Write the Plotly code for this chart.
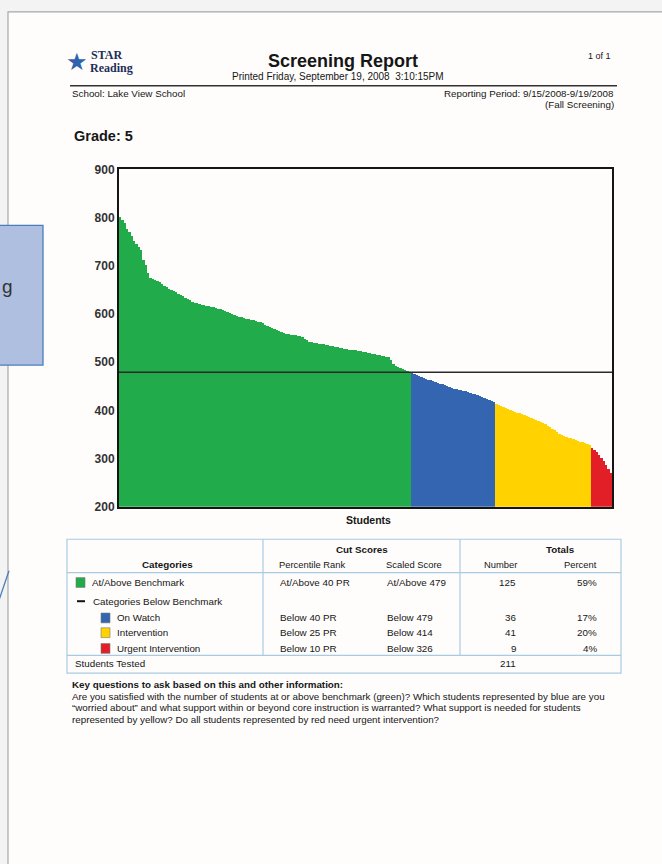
import plotly.graph_objects as go

# ---- Scaled scores of the 211 tested students, highest to lowest, by category ----
at_above_scores = [
    801, 795, 788, 776, 770, 760, 751, 745, 738, 731,
    712, 700, 684, 673, 671, 670, 668, 665, 662, 658,
    655, 652, 650, 647, 644, 640, 638, 636, 633, 631,
    628, 625, 623, 621, 619, 618, 617, 616, 615, 614,
    613, 612, 610, 609, 607, 606, 604, 602, 600, 598,
    596, 594, 592, 591, 589, 588, 587, 586, 584, 583,
    582, 580, 577, 575, 573, 570, 568, 566, 563, 561,
    559, 558, 557, 556, 556, 555, 554, 553, 551, 548,
    545, 542, 541, 540, 539, 538, 537, 536, 535, 534,
    533, 532, 531, 530, 529, 528, 527, 526, 525, 525,
    524, 524, 523, 522, 521, 520, 519, 518, 517, 516,
    515, 514, 513, 512, 511, 509, 503, 495, 491, 489,
    487, 485, 483, 481, 479,
]
on_watch_scores = [
    477, 475, 473, 471, 469, 467, 465, 463, 462, 461,
    459, 457, 455, 453, 451, 449, 447, 445, 444, 443,
    442, 441, 440, 439, 437, 436, 434, 433, 431, 429,
    427, 425, 423, 421, 419, 416,
]
intervention_scores = [
    412, 410, 408, 406, 404, 402, 400, 398, 396, 394,
    393, 391, 389, 387, 385, 383, 381, 379, 377, 376,
    373, 370, 367, 364, 361, 358, 355, 351, 349, 347,
    345, 343, 341, 339, 337, 335, 334, 333, 331, 329,
    327,
]
urgent_scores = [321, 317, 313, 307, 301, 294, 286, 277, 269]

# ---- Table contents ----
category_names = ["At/Above Benchmark", "On Watch", "Intervention", "Urgent Intervention"]
category_colors = ["#22ab4a", "#3465b0", "#ffd200", "#e21f26"]
percentile_cuts = ["At/Above 40 PR", "Below 40 PR", "Below 25 PR", "Below 10 PR"]
scaled_cuts = ["At/Above 479", "Below 479", "Below 414", "Below 326"]
student_counts = [125, 36, 41, 9]
student_percents = ["59%", "17%", "20%", "4%"]
students_tested = 211
benchmark_score = 479

y_ticks = [200, 300, 400, 500, 600, 700, 800, 900]

W, H = 662, 864


def px(x):
    return x / W


def py(y):
    return 1 - y / H


FONT = "Liberation Sans"
INK = "#161616"
SMALL = 9.8

fig = go.Figure()

# One bar per student, coloured by category
series = [at_above_scores, on_watch_scores, intervention_scores, urgent_scores]
rank = 1
for name, color, scores in zip(category_names, category_colors, series):
    ranks = list(range(rank, rank + len(scores)))
    rank += len(scores)
    fig.add_trace(go.Bar(
        x=ranks, y=scores, name=name,
        marker=dict(color=color, line=dict(width=0)),
        showlegend=False, hoverinfo="skip",
    ))

total = sum(len(s) for s in series)

shapes = []
annotations = []


def text(x, y, s, size=SMALL, bold=False, anchor="left", color=INK, family=FONT):
    annotations.append(dict(
        xref="paper", yref="paper", x=px(x), y=py(y), text=s, showarrow=False,
        xanchor=anchor, yanchor="middle",
        font=dict(family=family, size=size, color=color,
                  weight="bold" if bold else "normal"),
    ))


def rect(x0, y0, x1, y1, fill=None, line="rgba(0,0,0,0)", lw=1, layer="below"):
    shapes.append(dict(
        type="rect", xref="paper", yref="paper",
        x0=px(x0), y0=py(y0), x1=px(x1), y1=py(y1),
        fillcolor=fill if fill else "rgba(0,0,0,0)",
        line=dict(color=line, width=lw), layer=layer,
    ))


def hline(x0, x1, y, color, lw=1, layer="below"):
    shapes.append(dict(
        type="line", xref="paper", yref="paper",
        x0=px(x0), x1=px(x1), y0=py(y), y1=py(y),
        line=dict(color=color, width=lw), layer=layer,
    ))


def vline(x, y0, y1, color, lw=1, layer="below"):
    shapes.append(dict(
        type="line", xref="paper", yref="paper",
        x0=px(x), x1=px(x), y0=py(y0), y1=py(y1),
        line=dict(color=color, width=lw), layer=layer,
    ))


# Page sheet
rect(8, 5, 680, 880, fill="#fefdfc", line="#a8a8a8", lw=1.2)

# Benchmark line across the chart
shapes.append(dict(
    type="line", xref="x domain", yref="y", x0=0, x1=1,
    y0=benchmark_score, y1=benchmark_score,
    line=dict(color="#2a2a2a", width=1.5), layer="above",
))

# ---- Header ----
text(77, 55, "★", size=24, color="#2f63ad", anchor="center")
text(89, 49, "STAR", size=12, bold=True, color="#1d2d5a", family="Liberation Serif")
text(88, 62, "Reading", size=12, bold=True, color="#1d2d5a", family="Liberation Serif")
text(343, 55, "Screening Report", size=18, bold=True, anchor="center")
text(338, 71, "Printed Friday, September 19, 2008  3:10:15PM", size=10, anchor="center")
text(613, 50, "1 of 1", size=9, anchor="right")
hline(70, 617, 80, "#333333", lw=1.5)
text(70, 88, "School: Lake View School", size=SMALL)
text(616, 88, "Reporting Period: 9/15/2008-9/19/2008", size=SMALL, anchor="right")
text(616, 99, "(Fall Screening)", size=SMALL, anchor="right")
text(72, 131, "Grade: 5", size=14.5, bold=True)

# X axis title
text(368, 521, "Students", size=10.5, bold=True, anchor="center")

# ---- Table ----
TBL = "#a9cbe2"
T_L, T_R, T_T, T_B = 67, 621, 541, 677
rect(T_L, T_T, T_R, T_B, line=TBL, lw=1.2)
hline(T_L, T_R, 575, TBL, lw=1.2)
hline(T_L, T_R, 659, TBL, lw=1.2)
vline(263, T_T, 659, TBL, lw=1.2)
vline(460, T_T, 659, TBL, lw=1.2)

text(362, 551, "Cut Scores", size=SMALL, bold=True, anchor="center")
text(560, 551, "Totals", size=SMALL, bold=True, anchor="center")
text(167, 567, "Categories", size=SMALL, bold=True, anchor="center")
text(312, 567, "Percentile Rank", size=9.4, anchor="center")
text(414, 567, "Scaled Score", size=9.4, anchor="center")
text(519, 567, "Number", size=9.4, anchor="right")
text(599, 567, "Percent", size=9.4, anchor="right")

row_y = [585, 621, 636, 652]
swatch_x = [76, 101, 101, 101]
for i in range(4):
    y = row_y[i]
    sx = swatch_x[i]
    rect(sx, y - 5, sx + 9, y + 5, fill=category_colors[i], line="#7a7a7a", lw=0.6)
    text(sx + 14, y, category_names[i])
    text(278, y, percentile_cuts[i])
    text(385, y, scaled_cuts[i])
    text(518, y, str(student_counts[i]), anchor="right")
    text(599, y, student_percents[i], anchor="right")

hline(77, 85, 604, "#111111", lw=2)
text(91, 604, "Categories Below Benchmark")
text(73, 667, "Students Tested")
text(518, 667, str(students_tested), anchor="right")

# ---- Key questions ----
text(70, 689, "Key questions to ask based on this and other information:", size=SMALL, bold=True)
question_lines = [
    "Are you satisfied with the number of students at or above benchmark (green)? Which students represented by blue are you",
    "“worried about” and what support within or beyond core instruction is warranted? What support is needed for students",
    "represented by yellow? Do all students represented by red need urgent intervention?",
]
for k, line in enumerate(question_lines):
    text(70, 701 + 11.5 * k, line, size=9.8)

# ---- Callout box at the left edge ----
rect(-2, 222, 43, 364, fill="#aebfe0", line="#4a7ebb", lw=1.3, layer="above")
annotations.append(dict(
    xref="paper", yref="paper", x=px(15), y=py(284), text="g", showarrow=False,
    xanchor="right", yanchor="middle",
    font=dict(family=FONT, size=19, color="#333333"),
))
shapes.append(dict(
    type="line", xref="paper", yref="paper",
    x0=px(-1), y0=py(603), x1=px(9), y1=py(573),
    line=dict(color="#4a7ebb", width=1.3), layer="above",
))

fig.update_layout(
    width=W, height=H,
    margin=dict(l=0, r=0, t=0, b=0),
    paper_bgcolor="#f3f3f3",
    plot_bgcolor="rgba(0,0,0,0)",
    barmode="overlay", bargap=0,
    shapes=shapes, annotations=annotations,
    xaxis=dict(
        domain=[px(119), px(612)], range=[0.5, total + 0.5],
        showticklabels=False, ticks="", showgrid=False, zeroline=False,
        showline=True, mirror=True, linecolor="#151515", linewidth=2,
        fixedrange=True,
    ),
    yaxis=dict(
        domain=[py(508), py(165)], range=[200, 900],
        tickvals=y_ticks, ticks="", showgrid=False, zeroline=False,
        showline=True, mirror=True, linecolor="#151515", linewidth=2,
        tickfont=dict(family=FONT, size=12, color="#333333", weight="bold"),
        fixedrange=True,
    ),
)

fig.write_html("out.html")
